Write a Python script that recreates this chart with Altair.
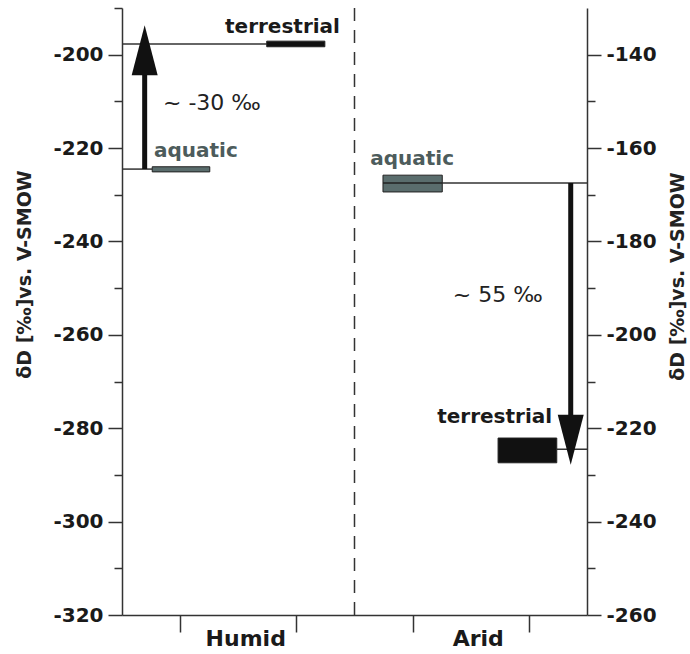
import altair as alt
import pandas as pd

# ---------------- data ----------------
X_MIN, X_MAX = 0, 8
x_tick_values = [1, 2, 3, 5, 6, 7]
x_label_map = {2: "Humid", 6: "Arid"}
divider_x = [4]

left_domain = [-320, -190]
right_domain = [-260, -130]
left_ticks = list(range(-320, -189, 10))
right_ticks = list(range(-260, -139, 10))

# Humid (left axis)
humid_names = ["aquatic", "terrestrial"]
humid_x0 = [0.52, 2.49]
humid_x1 = [1.51, 3.49]
humid_lo = [-225.1, -198.3]
humid_hi = [-224.0, -197.1]
humid_mid = [-224.5, -197.7]

humid_arrow_x = [0.39]
humid_arrow_from = [-224.5]
humid_arrow_to = [-197.1]

humid_text = ["terrestrial", "~ -30 ‰", "aquatic"]
humid_text_x = [3.75, 0.705, 0.55]
humid_text_y = [-195.35, -211.8, -221.9]

# Arid (right axis)
arid_names = ["aquatic", "terrestrial"]
arid_x0 = [4.49, 6.47]
arid_x1 = [5.51, 7.48]
arid_lo = [-169.4, -227.4]
arid_hi = [-165.8, -222.1]
arid_mid = [-167.5, -224.5]

arid_arrow_x = [7.72]
arid_arrow_from = [-167.5]
arid_arrow_to = [-224.4]

arid_text = ["aquatic", "~ 55 ‰", "terrestrial"]
arid_text_x = [4.27, 5.69, 7.40]
arid_text_y = [-163.6, -193.0, -218.9]

# ---------------- styles ----------------
FONT = "DejaVu Sans"
INK = "#1a1a1a"
AXIS_INK = "#333333"
AQUA = "#5a6d6d"
AQUA_TEXT = "#4d5c5c"
TERR = "#111111"
TITLE = "δD [‰]vs. V-SMOW"
text_styles = {
    "terrestrial": dict(fontWeight="bold", color=INK, fontSize=20),
    "aquatic": dict(fontWeight="bold", color=AQUA_TEXT, fontSize=20),
    "shift": dict(fontWeight="normal", color="#222222", fontSize=22),
}
ARROW_UP = "M0,-0.64L0.52,1.36L-0.52,1.36Z"
ARROW_DOWN = "M0,0.64L0.52,-1.36L-0.52,-1.36Z"

# ---------------- tables ----------------
humid_df = pd.DataFrame({"name": humid_names, "x0": humid_x0, "x1": humid_x1,
                         "lo": humid_lo, "hi": humid_hi, "mid": humid_mid,
                         "edge": [X_MIN] * len(humid_names)})
arid_df = pd.DataFrame({"name": arid_names, "x0": arid_x0, "x1": arid_x1,
                        "lo": arid_lo, "hi": arid_hi, "mid": arid_mid,
                        "edge": [X_MAX] * len(arid_names)})
humid_arrow = pd.DataFrame({"x": humid_arrow_x, "from": humid_arrow_from, "to": humid_arrow_to})
arid_arrow = pd.DataFrame({"x": arid_arrow_x, "from": arid_arrow_from, "to": arid_arrow_to})
humid_txt = pd.DataFrame({"text": humid_text, "x": humid_text_x, "y": humid_text_y})
arid_txt = pd.DataFrame({"text": arid_text, "x": arid_text_x, "y": arid_text_y})
div_df = pd.DataFrame({"x": divider_x})

# ---------------- axes / scales ----------------
label_expr = " : ".join(f"datum.value == {k} ? '{v}'" for k, v in x_label_map.items()) + " : ''"
hide_test = " || ".join(f"datum.value == {k}" for k in x_label_map)
x_scale = alt.Scale(domain=[X_MIN, X_MAX], nice=False, zero=False)
axis_common = dict(grid=False, labelFont=FONT, titleFont=FONT, labelColor=INK, titleColor="#222222",
                   domainColor=AXIS_INK, domainWidth=1.5, tickColor=AXIS_INK, tickWidth=1.5,
                   labelOverlap=False, labelFlush=False, labelFontWeight="bold")
x_axis = alt.Axis(values=x_tick_values, labelExpr=label_expr, title=None,
                  tickOpacity={"condition": {"test": hide_test, "value": 0}, "value": 1},
                  tickSize=17, labelPadding=13, labelBaseline="alphabetic",
                  labelFontSize=22, labelOffset=7, **axis_common)


def y_axis(orient, ticks, title_x, title_y):
    return alt.Axis(orient=orient, values=ticks,
                    labelExpr="datum.value % 20 == 0 ? '' + datum.value : ''",
                    tickSize={"condition": {"test": "datum.value % 20 != 0", "value": 8}, "value": 14},
                    labelPadding=5, labelFontSize=20,
                    title=TITLE, titleX=title_x, titleY=title_y, titleAngle=270,
                    titleBaseline="middle", titleAlign="center",
                    titleFontSize=19, titleFontWeight="bold", **axis_common)


left_axis = y_axis("left", left_ticks, -98, 266)
right_axis = y_axis("right", right_ticks, 90, 268)
left_scale = alt.Scale(domain=left_domain, nice=False, zero=False)
right_scale = alt.Scale(domain=right_domain, nice=False, zero=False)


def X(f):
    return alt.X(f, type="quantitative", scale=x_scale, axis=x_axis)


def YL(f):
    return alt.Y(f, type="quantitative", scale=left_scale, axis=left_axis)


def YR(f):
    return alt.Y(f, type="quantitative", scale=right_scale, axis=right_axis)


def texts(df, Y, names, style, align):
    sub = df[df["text"].isin(names)]
    return alt.Chart(sub).mark_text(font=FONT, align=align, baseline="alphabetic",
                                    **text_styles[style]).encode(x=X("x"), y=Y("y"), text="text:N")


def panel(df, arrow, Y, arrow_shape, connector_from, connector_to):
    conn = alt.Chart(df).mark_rule(strokeWidth=1.5, color=AXIS_INK).encode(
        x=X(connector_from), x2=alt.X2(connector_to), y=Y("mid"))
    bars = alt.Chart(df).mark_rect(stroke="#222222", strokeWidth=1).encode(
        x=X("x0"), x2=alt.X2("x1"), y=Y("lo"), y2=alt.Y2("hi"),
        fill=alt.Fill("name:N", scale=alt.Scale(domain=["aquatic", "terrestrial"], range=[AQUA, TERR]),
                      legend=None))
    shaft = alt.Chart(arrow).mark_rule(strokeWidth=5, color=TERR).encode(
        x=X("x"), y=Y("from"), y2=alt.Y2("to"))
    head = alt.Chart(arrow).mark_point(shape=arrow_shape, size=2500, filled=True, opacity=1,
                                       color=TERR, strokeWidth=0).encode(x=X("x"), y=Y("to"))
    return [conn, bars, shaft, head]


humid_layers = panel(humid_df, humid_arrow, YL, ARROW_UP, "edge", "x0")
humid_layers += [
    texts(humid_txt, YL, ["terrestrial"], "terrestrial", "right"),
    texts(humid_txt, YL, ["~ -30 ‰"], "shift", "left"),
    texts(humid_txt, YL, ["aquatic"], "aquatic", "left"),
]

arid_layers = panel(arid_df, arid_arrow, YR, ARROW_DOWN, "x1", "edge")
median = alt.Chart(arid_df[arid_df["name"] == "aquatic"]).mark_rule(strokeWidth=1.5, color="#222222").encode(
    x=X("x0"), x2=alt.X2("x1"), y=YR("mid"))
arid_layers.insert(2, median)
arid_layers += [
    texts(arid_txt, YR, ["aquatic"], "aquatic", "left"),
    texts(arid_txt, YR, ["~ 55 ‰"], "shift", "left"),
    texts(arid_txt, YR, ["terrestrial"], "terrestrial", "right"),
]

divider = alt.Chart(div_df).mark_rule(strokeDash=[13, 9], strokeWidth=1.5, color=AXIS_INK).encode(x=X("x"))

humid = alt.layer(divider, *humid_layers)
arid = alt.layer(*arid_layers)

chart = alt.layer(humid, arid).resolve_scale(y="independent").properties(
    width=465, height=607,
    background="white",
    autosize=alt.AutoSizeParams(type="none"),
    padding={"left": 122, "top": 8, "right": 103, "bottom": 39},
).configure_view(stroke=None)

chart.save("out.html", embed_options={"renderer": "svg", "actions": False})
